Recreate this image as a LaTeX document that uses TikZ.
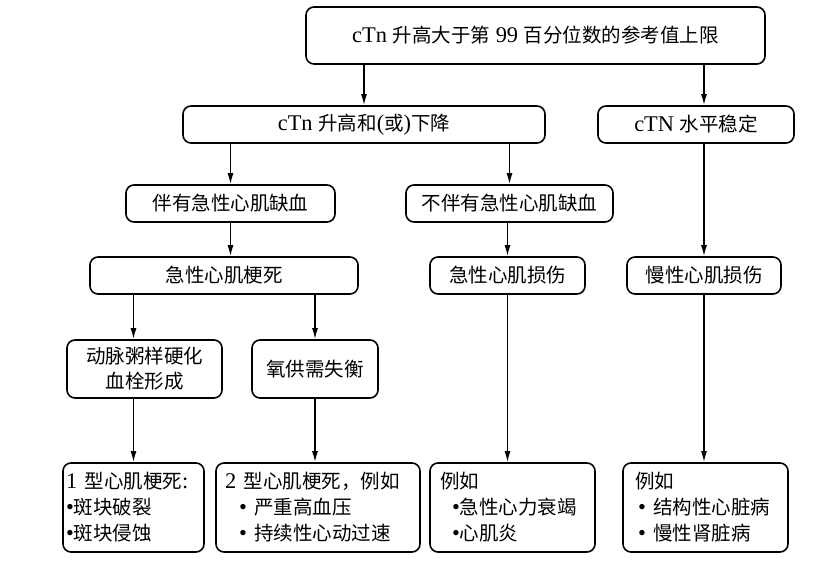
\documentclass[tikz,border=0pt]{standalone}
\usepackage{fontspec}
\setmainfont[Scale=1.15]{Liberation Serif}
\newfontfamily\cjk{Noto Sans CJK SC}
\newcommand{\zh}[1]{{\cjk #1}}
\usetikzlibrary{arrows.meta}

\tikzset{
  box/.style={draw, line width=1.6pt, rounded corners=8pt, inner sep=3pt, align=center,
    font=\fontsize{19.5}{25}\selectfont},
  listbox/.style={box, align=left, minimum height=89pt, font=\fontsize{19.5}{26}\selectfont},
  arr/.style={-{Latex[length=11pt,width=6pt]}, line width=1.5pt}
}

\begin{document}
\begin{tikzpicture}[x=1pt,y=1pt,yscale=-1,xscale=1]
    \useasboundingbox (0,0) rectangle (823,565);
    % Text Node
    \node (T) [box, minimum width=459pt, minimum height=57pt] at (535.5,35.5) {cTn \zh{升高大于第} 99 \zh{百分位数的参考值上限}};
    % Text Node
    \node (A) [box, minimum width=362pt, minimum height=37pt] at (364,124.5) {cTn \zh{升高和}(\zh{或})\zh{下降}};
    \node (B) [box, minimum width=196pt, minimum height=37pt] at (696,124.5) {cTN \zh{水平稳定}};
    % Text Node
    \node (C) [box, minimum width=209pt, minimum height=37pt] at (230.5,203.5) {\zh{伴有急性心肌缺血}};
    \node (D) [box, minimum width=207pt, minimum height=37pt] at (509.5,203.5) {\zh{不伴有急性心肌缺血}};
    % Text Node
    \node (E) [box, minimum width=268pt, minimum height=37pt] at (224,275.5) {\zh{急性心肌梗死}};
    \node (F) [box, minimum width=155pt, minimum height=37pt] at (507.5,275.5) {\zh{急性心肌损伤}};
    \node (G) [box, minimum width=154pt, minimum height=37pt] at (704,275.5) {\zh{慢性心肌损伤}};
    % Text Node
    \node (H) [box, minimum width=155pt, minimum height=58pt] at (144.5,369) {\zh{动脉粥样硬化}\\\zh{血栓形成}};
    \node (I) [box, minimum width=126pt, minimum height=58pt] at (315,369) {\zh{氧供需失衡}};
    % Text Node
    \node (J) [listbox, inner xsep=3pt, text width=135pt] at (133.5,507.5) {1 \zh{型心肌梗死}:\\•\zh{斑块破裂}\\•\zh{斑块侵蚀}};
    \node (K) [listbox, inner xsep=9pt, text width=186pt] at (318,507.5) {2 \zh{型心肌梗死，例如}\\\hspace*{14pt}• \zh{严重高血压}\\\hspace*{14pt}• \zh{持续性心动过速}};
    \node (L) [listbox, inner xsep=10pt, text width=145pt] at (512.5,507.5) {\zh{例如}\\\hspace*{12pt}•\zh{急性心力衰竭}\\\hspace*{12pt}•\zh{心肌炎}};
    \node (M) [listbox, inner xsep=12pt, text width=141pt] at (705.5,507.5) {\zh{例如}\\\hspace*{3pt}• \zh{结构性心脏病}\\\hspace*{3pt}• \zh{慢性肾脏病}};
    % Arrows
    \draw[arr] (A.north |- T.south) -- (A.north);
    \draw[arr] (T.south -| G.north) -- (B.north -| G.north);
    \draw[arr] (C.north |- A.south) -- (C.north);
    \draw[arr] (D.north |- A.south) -- (D.north);
    \draw[arr] (G.north |- B.south) -- (G.north);
    \draw[arr] (C.south) -- (C.south |- E.north);
    \draw[arr] (F.north |- D.south) -- (F.north);
    \draw[arr] (E.south -| J.north) -- (H.north -| J.north);
    \draw[arr] (I.north |- E.south) -- (I.north);
    \draw[arr] (H.south -| J.north) -- (J.north);
    \draw[arr] (I.south) -- (I.south |- K.north);
    \draw[arr] (F.south) -- (F.south |- L.north);
    \draw[arr] (G.south) -- (G.south |- M.north);
\end{tikzpicture}
\end{document}
